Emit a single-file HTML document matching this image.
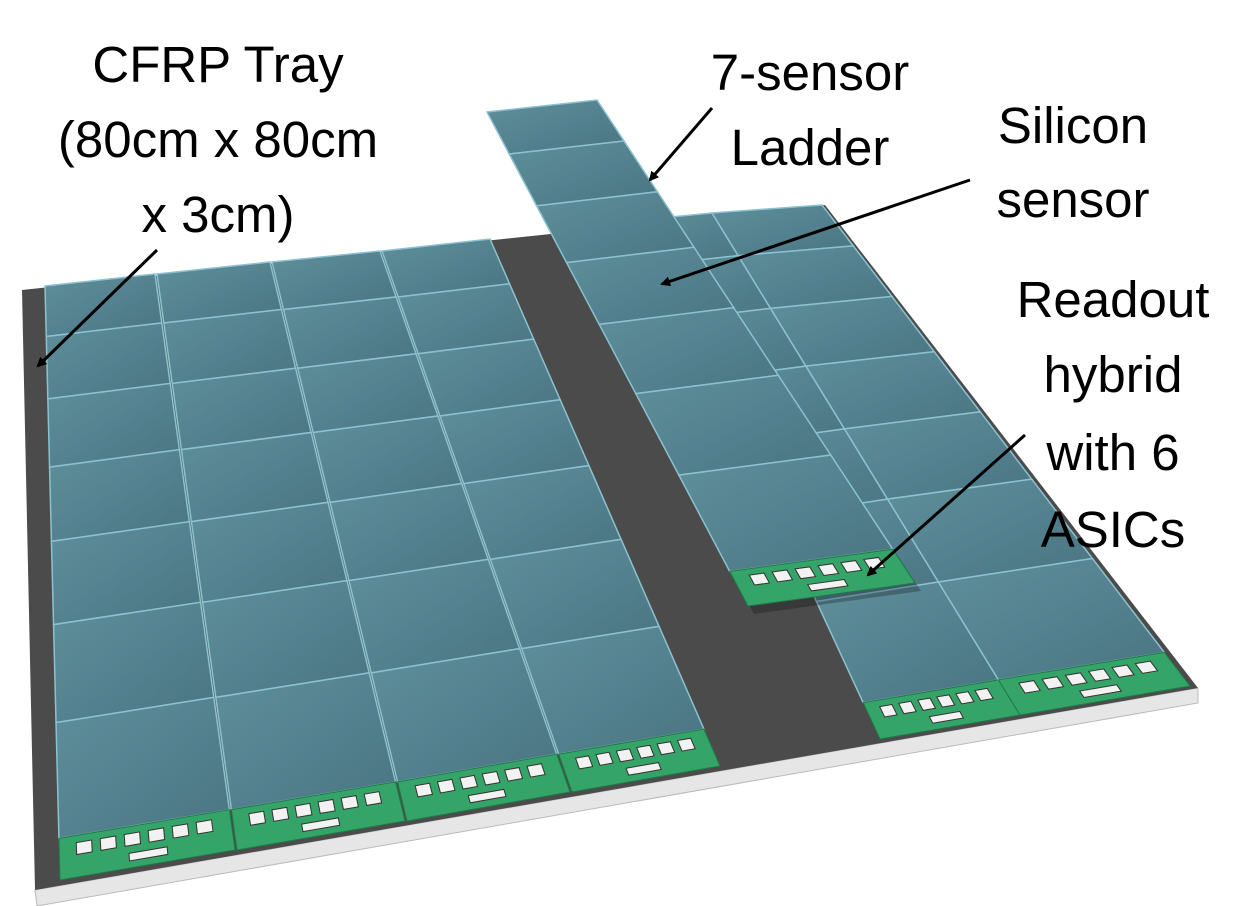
<!DOCTYPE html>
<html><head><meta charset="utf-8"><style>
html,body{margin:0;padding:0;background:#fff;}
svg{display:block;}
text{font-family:"Liberation Sans",sans-serif;font-size:51px;fill:#000;text-anchor:middle;}
</style></head><body>
<svg id="fig" width="1244" height="906" viewBox="0 0 1244 906">
<defs>
<linearGradient id="sg" x1="0" y1="0" x2="1" y2="1">
<stop offset="0" stop-color="#5f8f9c"/><stop offset="1" stop-color="#4a7583"/></linearGradient>
<marker id="ah" markerWidth="10" markerHeight="10" refX="8" refY="5" orient="auto" markerUnits="userSpaceOnUse">
<path d="M0,0 L10,5 L0,10 z" fill="#000"/></marker>
</defs>
<polygon points="35,890 1198,688 1198,703 37,906" fill="#e6e6e6" stroke="#bbb"/>
<polygon points="22,290 560,233 825,205 1198,688 35,890" fill="#4b4b4b"/>
<g id="cols"></g>
<g id="labels">
<text x="218" y="82">CFRP Tray</text>
<text x="218" y="157">(80cm x 80cm</text>
<text x="218" y="232">x 3cm)</text>
<text x="810" y="90">7-sensor</text>
<text x="810" y="165">Ladder</text>
<text x="1073" y="143">Silicon</text>
<text x="1073" y="217">sensor</text>
<text x="1113" y="317">Readout</text>
<text x="1113" y="392">hybrid</text>
<text x="1113" y="470">with 6</text>
<text x="1113" y="547">ASICs</text>
</g>
<g stroke="#000" stroke-width="3" marker-end="url(#ah)">
<line x1="157" y1="250" x2="38" y2="366"/>
<line x1="712" y1="108" x2="650" y2="180"/>
<line x1="970" y1="180" x2="662" y2="284"/>
<line x1="1025" y1="435" x2="868" y2="575"/>
</g>
</svg>
<script>
// Ladder outlines: [TLx,TLy,TRx,TRy,BRx,BRy,BLx,BLy]
const ladderNames = ['ladder-1','ladder-2','ladder-3','ladder-4','ladder-7','ladder-8','ladder-6-raised'];
const ladderQuads = [
 [45,286,155,274,235,850,60,880],
 [157,274,270,262,405,821,237,850],
 [272,262,380,251,570,792,407,821],
 [382,251,490,239,720,766,572,792],
 [640,220,712,213,1020,715,880,739],
 [712,213,822,205,1190,686,1020,715],
 [487,112,597,100,915,583,748,606]
];
const rowFractions = [0,0.085,0.19,0.305,0.43,0.57,0.735,0.93];
const NS='http://www.w3.org/2000/svg';
const g=document.getElementById('cols');
function P(q,u,v){const tx=q[0]+(q[2]-q[0])*u,ty=q[1]+(q[3]-q[1])*u,bx=q[6]+(q[4]-q[6])*u,by=q[7]+(q[5]-q[7])*u;return [tx+(bx-tx)*v,ty+(by-ty)*v];}
function poly(pts,fill,stroke,sw){const p=document.createElementNS(NS,'polygon');p.setAttribute('points',pts.map(a=>a.join(',')).join(' '));p.setAttribute('fill',fill);if(stroke){p.setAttribute('stroke',stroke);p.setAttribute('stroke-width',sw||1);}g.appendChild(p);return p;}
ladderQuads.forEach((q,i)=>{
 if(i===6){const s=poly([[q[0]+6,q[1]+8],[q[2]+6,q[3]+8],[q[4]+6,q[5]+8],[q[6]+6,q[7]+8]],'rgba(0,0,0,0.25)');
  
  }
 for(let r=0;r<rowFractions.length-1;r++){
  const a=rowFractions[r],b=rowFractions[r+1];
  const s=poly([P(q,0,a),P(q,1,a),P(q,1,b),P(q,0,b)],'url(#sg)','#8cc2cf',1.5);
  
  
 }
 const h=poly([P(q,0,0.93),P(q,1,0.93),P(q,1,1),P(q,0,1)],'#35a468','#1f7a48',1);
 
 
 for(let c=0;c<6;c++){
  const u0=0.1+c*0.14,u1=u0+0.09;
  const ch=poly([P(q,u0,0.942),P(q,u1,0.942),P(q,u1,0.962),P(q,u0,0.962)],'#f2f2f2','#333',1);
  
  
 }
 const bar=poly([P(q,0.4,0.975),P(q,0.62,0.975),P(q,0.62,0.988),P(q,0.4,0.988)],'#f2f2f2','#333',1);
 
 
});
</script>
</body></html>
